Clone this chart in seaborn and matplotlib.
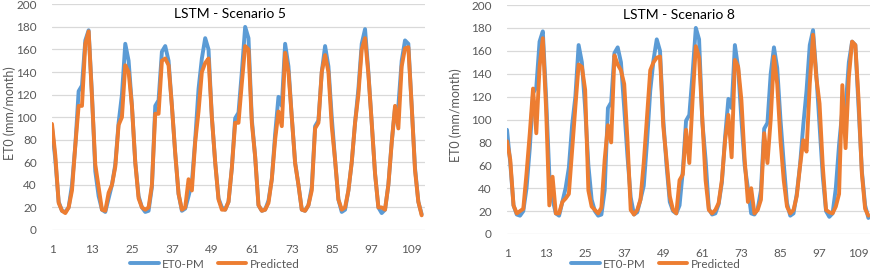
import matplotlib
matplotlib.use("Agg")
import matplotlib.pyplot as plt
from matplotlib.lines import Line2D
import seaborn as sns
import pandas as pd

# monthly ET0 values, 112 months
months = list(range(1, 113))

eto_pm = [91, 62, 25, 17, 16, 20, 40, 75, 123, 128, 168, 177,
          120, 52, 30, 18, 16, 28, 40, 58, 95, 120, 165, 150,
          110, 60, 30, 20, 16, 17, 38, 110, 115, 158, 163, 150,
          110, 68, 32, 17, 19, 30, 42, 80, 125, 152, 170, 160,
          100, 60, 28, 20, 18, 25, 55, 99, 104, 140, 180, 170,
          98, 65, 22, 17, 18, 26, 45, 85, 118, 110, 165, 145,
          100, 60, 40, 18, 17, 22, 38, 92, 97, 140, 163, 145,
          100, 62, 27, 16, 18, 35, 60, 95, 125, 165, 178, 140,
          95, 50, 20, 15, 18, 40, 78, 108, 110, 150, 168, 165,
          110, 55, 25, 14]

pred_s5 = [94, 66, 24, 17, 15, 20, 35, 75, 110, 110, 165, 176,
           118, 58, 38, 18, 17, 33, 40, 56, 93, 100, 146, 140,
           110, 60, 28, 20, 18, 20, 40, 103, 103, 150, 152, 146,
           110, 68, 32, 18, 20, 45, 35, 78, 105, 140, 148, 152,
           100, 60, 27, 18, 18, 25, 55, 95, 95, 130, 163, 160,
           95, 65, 22, 17, 18, 24, 45, 80, 105, 92, 157, 140,
           100, 59, 40, 18, 17, 22, 35, 90, 95, 140, 155, 140,
           92, 62, 27, 18, 20, 35, 60, 95, 120, 160, 170, 138,
           95, 50, 20, 20, 18, 40, 77, 110, 90, 145, 161, 162,
           110, 53, 25, 13]

pred_s8 = [81, 65, 25, 18, 20, 22, 53, 88, 127, 88, 146, 171,
           110, 25, 50, 18, 18, 28, 31, 35, 73, 111, 148, 146,
           126, 38, 24, 21, 18, 23, 65, 95, 80, 156, 148, 143,
           131, 82, 21, 17, 21, 30, 62, 102, 143, 150, 154, 155,
           94, 65, 33, 21, 18, 47, 52, 91, 62, 117, 164, 154,
           100, 47, 21, 18, 21, 27, 47, 82, 104, 67, 152, 146,
           117, 65, 28, 40, 18, 21, 30, 88, 62, 100, 155, 131,
           82, 47, 24, 18, 21, 33, 59, 82, 72, 131, 174, 137,
           114, 59, 21, 19, 18, 24, 35, 130, 75, 137, 168, 165,
           117, 53, 22, 16]

titles = ["LSTM - Scenario 5", "LSTM - Scenario 8"]
series_names = ["ET0-PM", "Predicted"]
xticks = list(range(1, 113, 12))
yticks = list(range(0, 201, 20))

sns.set_style("white")
plt.rcParams["font.family"] = ["Lato", "DejaVu Sans"]

blue = "#5B9BD5"
orange = "#ED7D31"
grey = "#595959"

fig = plt.figure(figsize=(8.71, 2.70), dpi=100)

# axes rectangle, x max, title pos, ylabel x (axes coords), legend x (figure)
panels = [
    (pred_s5, [52 / 871, 40 / 270, 373 / 871, 225.7 / 270], 113, (0.477, 0.957), -0.097, 215 / 871),
    (pred_s8, [507 / 871, 36 / 270, 363 / 871, 229 / 270], 112.5, (0.474, 0.956), -0.124, 656 / 871),
]

for i, (pred, rect, xmax, tpos, ylx, legx) in enumerate(panels):
    ax = fig.add_axes(rect)
    df = pd.DataFrame({
        "month": months + months,
        "value": eto_pm + pred,
        "series": [series_names[0]] * len(months) + [series_names[1]] * len(months),
    })
    sns.lineplot(data=df, x="month", y="value", hue="series",
                 palette=[blue, orange], lw=2.8, ax=ax, legend=False)
    ax.set_xlim(1, xmax)
    ax.set_ylim(0, 200)
    ax.set_xticks(xticks)
    ax.set_yticks(yticks)
    ax.tick_params(axis="both", length=0, labelsize=8.5, labelcolor=grey)
    ax.tick_params(axis="x", pad=10)
    ax.tick_params(axis="y", pad=11)
    ax.grid(axis="y", color="#D9D9D9", lw=0.9)
    ax.set_axisbelow(True)
    for s in ax.spines.values():
        s.set_visible(False)
    ax.set_xlabel("")
    ax.set_ylabel("ET0 (mm/month)", fontsize=9, color=grey)
    ax.yaxis.set_label_coords(ylx, 0.52)
    ax.text(tpos[0], tpos[1], titles[i], transform=ax.transAxes,
            ha="center", va="center", fontsize=10, color="black")

    handles = [Line2D([], [], color=blue, lw=2.8), Line2D([], [], color=orange, lw=2.8)]
    fig.legend(handles, series_names, loc="center", bbox_to_anchor=(legx, 1 - 264 / 270),
               ncol=2, frameon=False, fontsize=8.5, labelcolor=grey,
               handlelength=2.4, handletextpad=0.3, columnspacing=1.1)

fig.savefig("out.png", dpi=100)
